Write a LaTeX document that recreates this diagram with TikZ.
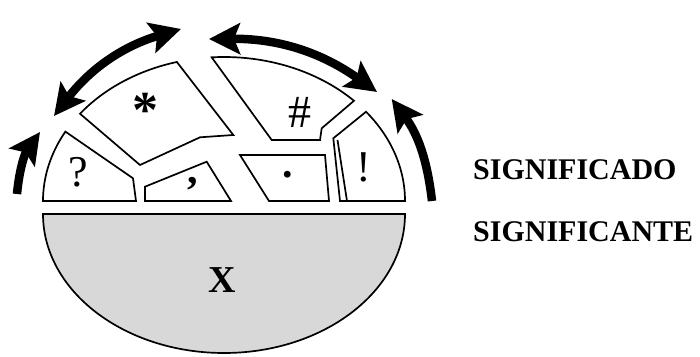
\documentclass[tikz,border=0pt]{standalone}
\usepackage{fontspec}
\setmainfont{Liberation Serif}
\usetikzlibrary{arrows.meta}
\definecolor{lowgray}{HTML}{D8D8D8}
\tikzset{
  piece/.style={draw=black, line width=1.7pt, line join=miter, fill=white},
  bigarrow/.style={line width=8.5pt, draw=black},
  sym/.style={inner sep=0pt, text=black},
  lab/.style={inner sep=0pt, anchor=west, font=\fontsize{30}{30}\selectfont\bfseries}
}
\def\hd{Stealth[length=31pt,width=31pt,inset=6pt]}
\begin{document}
\begin{tikzpicture}[x=1pt,y=1pt]
\useasboundingbox (0,0) rectangle (700,356);
\fill[white] (0,0) rectangle (700,356);
% lower half (significante)
\draw[line width=1.7pt, fill=lowgray] (43,142) arc[start angle=180, end angle=360, x radius=181, y radius=139] -- cycle;
% upper pieces
\draw[piece] (43,155) arc[start angle=180, end angle=151.2, x radius=181, y radius=144] -- (133,177.7) -- (136,155) -- cycle;
\draw[piece] ({224+181*cos(142.7)},{155+144*sin(142.7)}) arc[start angle=142.7, end angle=105.1, x radius=181, y radius=144] -- (233.3,221) -- (200,218.7) -- (140,191) -- cycle;
\draw[piece] (145,155) -- (145,169.3) -- (206.7,194.3) -- (231,155) -- cycle;
\draw[piece] ({224+181*cos(93.9)},{155+144*sin(93.9)}) arc[start angle=93.9, end angle=44.1, x radius=181, y radius=144] -- (321.7,227.7) -- (320,216) -- (271.7,216) -- cycle;
\draw[piece] (240,201) -- (325,201) -- (329,155) -- (269,155) -- cycle;
\draw[piece] (405,155) arc[start angle=0, end angle=38.3, x radius=181, y radius=144] -- (333.3,217.7) -- (340,155) -- cycle;
\draw[line width=1.7pt] (337.5,216) -- (347,155);
% arrows
\coordinate (a1s) at (17,162);
\coordinate (a1e) at (40,224);
\coordinate (a2s) at (54,240);
\coordinate (a2e) at (181,327);
\coordinate (a3s) at (209,317);
\coordinate (a3e) at (377,264);
\coordinate (a4s) at (432,155);
\coordinate (a4e) at (391.7,257);
\draw[bigarrow, -{\hd}] (a1s) to[bend left=15] (a1e);
\draw[bigarrow, {\hd}-{\hd}] (a2s) to[bend left=18] (a2e);
\draw[bigarrow, {\hd}-{\hd}] (a3s) to[bend left=18] (a3e);
\draw[bigarrow, -{\hd}] (a4s) to[bend right=15] (a4e);
% symbols
\node[sym, font=\fontsize{44}{44}\selectfont] (q) at (78,184) {?};
\node[sym, font=\fontsize{52}{52}\selectfont\bfseries] (ast) at (145,246) {*};
\node[sym, font=\fontsize{42}{42}\selectfont\bfseries] (com) at (193,172) {,};
\node[sym, font=\fontsize{46}{46}\selectfont] (hash) at (300,244) {\#};
\node[sym, font=\fontsize{42}{42}\selectfont\bfseries] (dot) at (287.3,181) {.};
\node[sym, font=\fontsize{44}{44}\selectfont] (exc) at (364,189) {!};
\node[sym, font=\fontsize{38}{38}\selectfont\bfseries] (x) at (222,76) {X};
% labels
\node[lab] (sdo) at (473,186) {SIGNIFICADO};
\node[lab] (ste) at (473,124) {SIGNIFICANTE};
\end{tikzpicture}
\end{document}
